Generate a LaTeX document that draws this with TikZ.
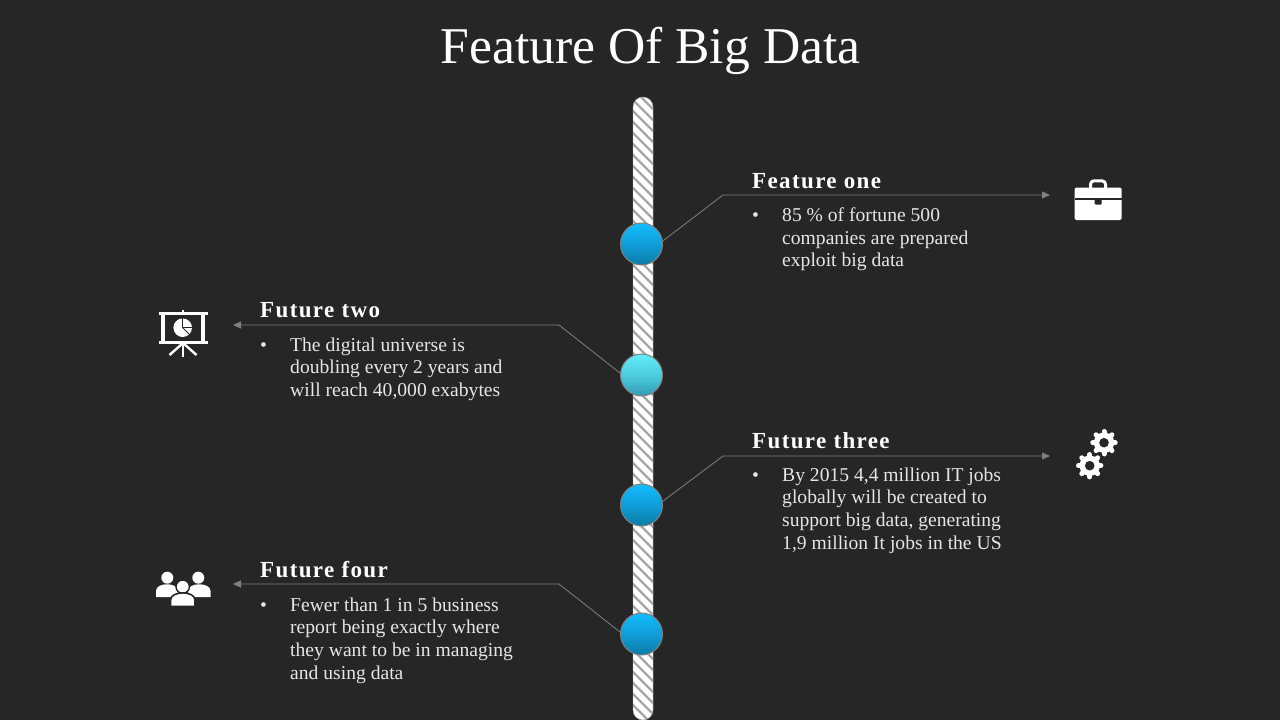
\documentclass[tikz,border=0pt]{standalone}
\usepackage{fontspec}
\setmainfont{Liberation Serif}
\newfontfamily\headfont[LetterSpace=6]{Liberation Serif}
\usetikzlibrary{arrows.meta}
\definecolor{slide}{HTML}{262626}
\definecolor{leadgray}{HTML}{808080}
\definecolor{hatchgray}{HTML}{A6A6A6}
\definecolor{bodytext}{HTML}{E6E6E6}
\definecolor{bluetop}{HTML}{12BDFF}
\definecolor{bluemid}{HTML}{109DD8}
\definecolor{bluelow}{HTML}{0A7CA6}
\definecolor{aquatop}{HTML}{60ECFC}
\definecolor{aquamid}{HTML}{4CCDDE}
\definecolor{aqualow}{HTML}{329BB2}
\tikzset{head/.style={font=\fontsize{23}{24}\headfont\bfseries,text=white,anchor=base west,inner sep=0pt}}
\tikzset{body/.style={font=\fontsize{19.6}{22.6}\selectfont,text=bodytext,anchor=north west,inner sep=0pt,align=left}}
\tikzset{dot/.style={circle,draw=leadgray,line width=1pt,minimum size=42pt,inner sep=0pt}}
\tikzset{blue dot/.style={dot,top color=bluetop,bottom color=bluelow,middle color=bluemid}}
\tikzset{aqua dot/.style={dot,top color=aquatop,bottom color=aqualow,middle color=aquamid}}
\tikzset{leader/.style={draw=leadgray,line width=.8pt}}
\tikzset{gearwheel/.pic={
    \fill[white] (0,0) circle (10.2);
    \foreach \a in {0,45,...,315} \draw[white,line width=5pt,line cap=round] (\a:8)--(\a:11.2);
    \fill[slide] (0,0) circle (4.8);
  }}

\begin{document}
\begin{tikzpicture}[x=1pt,y=-1pt,line join=round]
  \useasboundingbox[fill=slide] (0,0) rectangle (1280,720);
  \node[font=\fontsize{51.6}{52}\selectfont,text=white] (title) at (650.5,50.5) {Feature Of Big Data};

  % striped bar
  \fill[white,rounded corners=10pt] (633,97) rectangle (653,720);
  \begin{scope}
    \clip[rounded corners=10pt] (633,97) rectangle (653,720);
    \foreach \y in {70,81,...,730}
      \draw[hatchgray,line width=2.4pt] (625,\y)--(661,\y+36);
  \end{scope}
  \draw[hatchgray,line width=.4pt,rounded corners=10pt] (633,97) rectangle (653,720);

  % dots
  \node[blue dot] (one) at (641.5,244) {};
  \node[aqua dot] (two) at (641.5,375) {};
  \node[blue dot] (three) at (641.5,505) {};
  \node[blue dot] (four) at (641.5,634) {};

  % leaders
  \coordinate (bendone) at (723,195);
  \coordinate (tipone) at (1050,195);
  \coordinate (bendtwo) at (559,325);
  \coordinate (tiptwo) at (233,325);
  \coordinate (bendthree) at (723,456);
  \coordinate (tipthree) at (1050,456);
  \coordinate (bendfour) at (559,584);
  \coordinate (tipfour) at (233,584);
  \draw[leader,-{Triangle[length=8pt,width=7pt]}] (one.8)--(bendone)--(tipone);
  \draw[leader,-{Triangle[length=8pt,width=7pt]}] (two.175)--(bendtwo)--(tiptwo);
  \draw[leader,-{Triangle[length=8pt,width=7pt]}] (three.10)--(bendthree)--(tipthree);
  \draw[leader,-{Triangle[length=8pt,width=7pt]}] (four.175)--(bendfour)--(tipfour);

  % texts
  \node[head] (headone) at (752,188) {Feature one};
  \node[body] (dotA) at (752,212) {•};
  \node[body] (bodyone) at (782,207.5) {85 \% of fortune 500\\companies are prepared\\exploit big data};
  \node[head] (headtwo) at (260,317) {Future two};
  \node[body] (dotB) at (260,342) {•};
  \node[body] (bodytwo) at (290,337.5) {The digital universe is\\doubling every 2 years and\\will reach 40,000 exabytes};
  \node[head] (headthree) at (752,448) {Future three};
  \node[body] (dotC) at (752,472) {•};
  \node[body] (bodythree) at (782,467.5) {By 2015 4,4 million IT jobs\\globally will be created to\\support big data, generating\\1,9 million It jobs in the US};
  \node[head] (headfour) at (260,577) {Future four};
  \node[body] (dotD) at (260,602) {•};
  \node[body] (bodyfour) at (290,597.5) {Fewer than 1 in 5 business\\report being exactly where\\they want to be in managing\\and using data};

  % briefcase
  \draw[white,line width=3pt,rounded corners=3.5pt] (1090.5,188)--(1090.5,180.8)--(1105.5,180.8)--(1105.5,188);
  \fill[white,rounded corners=1.5pt] (1074.5,187.5) rectangle (1121.5,220);
  \fill[slide] (1074.5,198.3) rectangle (1121.5,200);
  \fill[slide,rounded corners=1pt] (1094.7,198) rectangle (1101.7,204.7);

  % screen with pie
  \draw[white,line width=3pt] (158.5,313)--(207.5,313);
  \draw[white,line width=3pt] (158.5,342.5)--(207.5,342.5);
  \draw[white,line width=4pt] (163,313)--(163,342.5);
  \draw[white,line width=4pt] (203,313)--(203,342.5);
  \draw[white,line width=2pt] (183,309.5)--(183,313);
  \draw[white,line width=2.4pt] (183,343)--(183,357);
  \draw[white,line width=2.4pt] (183,343)--(169.5,355);
  \draw[white,line width=2.4pt] (183,343)--(196.5,355);
  \fill[white] (182.7,327.7) circle (9.3);
  \draw[slide,line width=.9pt] (182.7,318)--(182.7,327.7)--(192.5,327.7);
  \draw[slide,line width=.9pt] (182.7,327.7)--(189.5,334.5);

  % gears
  \pic at (1104,442.7) {gearwheel};
  \pic at (1089.7,465.7) {gearwheel};

  % people
  \fill[white] (167.3,577.7) circle (6);
  \fill[white] (198.3,577.7) circle (6);
  \fill[white] (156,597)--(156,591) .. controls (156,582) and (178,582) .. (178,591)--(178,597)--cycle;
  \fill[white] (188,597)--(188,591) .. controls (188,582) and (210.5,582) .. (210.5,591)--(210.5,597)--cycle;
  \fill[white,draw=slide,line width=1.4pt] (182.7,586.7) circle (6.7);
  \fill[white,draw=slide,line width=1.6pt] (170.5,606.5)--(170.5,600) .. controls (170.5,590.5) and (195,590.5) .. (195,600)--(195,606.5)--cycle;
\end{tikzpicture}
\end{document}
